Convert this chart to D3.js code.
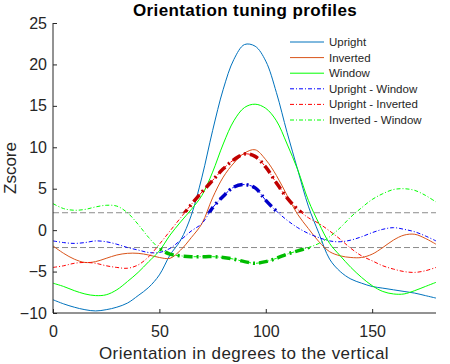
<!DOCTYPE html>
<html>
<head>
<meta charset="utf-8">
<script src="https://cdn.jsdelivr.net/npm/d3@7"></script>
<style>
  body { margin: 0; background: #fff; }
  text { font-family: "Liberation Sans", Arial, sans-serif; fill: #262626; }
</style>
</head>
<body>
<div id="container"></div>
<script>
// orientation in degrees, 0..180 step 5
const degrees = d3.range(0, 181, 5)

const upright = [-8.4, -8.9, -9.3, -9.6, -9.75, -9.6, -9.3, -8.8, -7.9, -6.9, -5.4, -3.0, -1.2, 1.8, 6.4, 12.0, 17.0, 20.6, 22.4, 22.2,
  20.4, 16.6, 11.8, 7.3, 2.9, -0.4, -3.5, -5.0, -5.9, -6.4, -6.8, -7.0, -7.2, -7.4, -7.6, -7.9, -8.2]
const inverted = [-1.9, -2.8, -3.5, -3.9, -3.8, -3.4, -3.0, -2.8, -2.8, -3.0, -3.3, -3.4, -2.4, -0.9, 0.8, 3.9, 6.4, 8.1, 9.3, 9.7,
  8.5, 6.6, 4.2, 1.9, 0.2, -1.4, -2.6, -3.1, -3.3, -3.3, -2.9, -2.1, -1.2, -0.6, -0.5, -1.0, -1.7]
const windowZ = [-6.4, -6.8, -7.3, -7.7, -7.9, -7.8, -7.2, -6.2, -5.1, -3.8, -2.5, -0.6, 1.0, 2.5, 4.2, 7.0, 10.4, 13.2, 14.8, 15.2,
  14.7, 13.2, 10.4, 7.3, 3.6, 0.8, -1.6, -3.1, -4.5, -5.7, -6.7, -7.4, -7.7, -7.7, -7.3, -6.8, -6.3]
const uprightMinusWindow = [-1.3, -1.5, -1.6, -1.5, -1.3, -1.4, -1.7, -2.1, -2.4, -2.7, -2.7, -2.2, -1.2, -0.1, 0.8, 2.7, 4.1, 5.2, 5.5, 5.1,
  3.6, 2.3, 1.2, 0.3, -0.4, -0.9, -1.3, -1.4, -1.2, -0.8, -0.3, 0.1, 0.3, 0.1, -0.2, -0.7, -1.3]
const uprightMinusInverted = [-4.5, -4.3, -4.0, -3.9, -4.0, -4.3, -4.5, -4.6, -4.2, -3.2, -1.7, -0.1, 1.5, 3.1, 4.6, 6.0, 7.4, 8.5, 9.2, 8.9,
  7.6, 5.7, 3.9, 2.5, 1.5, 0.8, -0.1, -1.1, -2.2, -3.1, -3.7, -4.3, -4.7, -5.0, -5.1, -4.9, -4.5]
const invertedMinusWindow = [3.2, 2.6, 2.4, 2.5, 2.8, 3.0, 2.9, 2.1, 0.7, -0.9, -2.2, -2.9, -3.1, -3.2, -3.2, -3.2, -3.3, -3.5, -3.8, -4.0,
  -3.8, -3.4, -2.9, -2.5, -2.1, -1.6, -0.8, 0.3, 1.6, 2.7, 3.7, 4.4, 4.9, 5.0, 4.8, 4.2, 3.4]

const threshold = 2.1
const xTicks = [0, 50, 100, 150]
const yTicks = [-10, -5, 0, 5, 10, 15, 20, 25]

const series = [
  { name: "Upright", values: upright, color: "#0072BD", dash: null },
  { name: "Inverted", values: inverted, color: "#D95319", dash: null },
  { name: "Window", values: windowZ, color: "#00FF00", dash: null },
  { name: "Upright - Window", values: uprightMinusWindow, color: "#0000FF", dash: "4,2,1,2", sig: "up", dark: "#0000C8" },
  { name: "Upright - Inverted", values: uprightMinusInverted, color: "#FF0000", dash: "4,2,1,2", sig: "up", dark: "#C00000" },
  { name: "Inverted - Window", values: invertedMinusWindow, color: "#00FF00", dash: "4,2,1,2", sig: "down", dark: "#00BB00" }
]

const w = 450
const h = 364
const margin = { left: 53, right: 14, top: 23, bottom: 51 }

const svg = d3.select("#container")
  .append("svg")
  .attr("width", w)
  .attr("height", h)

const x = d3.scaleLinear().domain([0, 180]).range([margin.left, w - margin.right])
const y = d3.scaleLinear().domain([-10, 25]).range([h - margin.bottom, margin.top])

// clip regions for the significant (thick) parts
const defs = svg.append("defs")
defs.append("clipPath").attr("id", "clip-up")
  .append("rect")
  .attr("x", x(0)).attr("width", x(180) - x(0))
  .attr("y", y(25)).attr("height", y(threshold) - y(25))
defs.append("clipPath").attr("id", "clip-down")
  .append("rect")
  .attr("x", x(0)).attr("width", x(180) - x(0))
  .attr("y", y(-threshold)).attr("height", y(-10) - y(-threshold))

// threshold lines
svg.selectAll(".thr")
  .data([threshold, -threshold])
  .enter()
  .append("line")
  .attr("x1", x(0))
  .attr("x2", x(180))
  .attr("y1", (d) => y(d))
  .attr("y2", (d) => y(d))
  .attr("stroke", "#8c8c8c")
  .attr("stroke-width", 1)
  .attr("stroke-dasharray", "6,3")

const line = d3.line()
  .x((d) => x(d[0]))
  .y((d) => y(d[1]))
  .curve(d3.curveCatmullRom)

series.forEach((s) => {
  const pts = degrees.map((deg, i) => [deg, s.values[i]])
  svg.append("path")
    .attr("d", line(pts))
    .attr("fill", "none")
    .attr("stroke", s.color)
    .attr("stroke-width", 1)
    .attr("stroke-dasharray", s.dash)
})

// thick overlays where the difference is significant
series.filter((s) => s.sig).forEach((s) => {
  const pts = degrees.map((deg, i) => [deg, s.values[i]])
  svg.append("path")
    .attr("d", line(pts))
    .attr("fill", "none")
    .attr("stroke", s.dark)
    .attr("stroke-width", 3.5)
    .attr("stroke-dasharray", "9,4,2,4")
    .attr("clip-path", s.sig == "up" ? "url(#clip-up)" : "url(#clip-down)")
})

// axes
const xAxis = d3.axisBottom(x).tickValues(xTicks).tickSize(-4).tickPadding(12.5)
const yAxis = d3.axisLeft(y).tickValues(yTicks).tickSize(-4).tickPadding(6)

const gx = svg.append("g")
  .attr("transform", `translate(0,${y(-10)})`)
  .call(xAxis)
const gy = svg.append("g")
  .attr("transform", `translate(${x(0)},0)`)
  .call(yAxis)

;[gx, gy].forEach((g) => {
  g.select(".domain").attr("stroke", "#262626").attr("d", g === gx
    ? `M${x(0)},0H${x(180)}`
    : `M0,${y(25)}V${y(-10)}`)
  g.selectAll(".tick line").attr("stroke", "#262626")
  g.selectAll(".tick text")
    .attr("font-family", "Liberation Sans, Arial, sans-serif")
    .attr("font-size", 16)
    .attr("fill", "#262626")
})

// title and labels
svg.append("text")
  .attr("x", 245)
  .attr("y", 16)
  .attr("text-anchor", "middle")
  .attr("font-size", 17)
  .attr("font-weight", "bold")
  .style("letter-spacing", "0.4px")
  .style("fill", "#000")
  .text("Orientation tuning profiles")

svg.append("text")
  .attr("x", 244)
  .attr("y", 359)
  .attr("text-anchor", "middle")
  .attr("font-size", 17)
  .style("letter-spacing", "0.45px")
  .text("Orientation in degrees to the vertical")

svg.append("text")
  .attr("transform", `translate(16,${(y(25) + y(-10)) / 2}) rotate(-90)`)
  .attr("text-anchor", "middle")
  .attr("font-size", 17)
  .text("Zscore")

// legend
const legend = svg.append("g")
  .attr("transform", "translate(290,42)")

series.forEach((s, i) => {
  const row = legend.append("g").attr("transform", `translate(0,${i * 15.6})`)
  row.append("line")
    .attr("x1", 0).attr("x2", 34)
    .attr("y1", 0).attr("y2", 0)
    .attr("stroke", s.color)
    .attr("stroke-width", 1)
    .attr("stroke-dasharray", s.dash)
  row.append("text")
    .attr("x", 39)
    .attr("y", 4)
    .attr("font-size", 11.5)
    .text(s.name)
})
</script>
</body>
</html>
